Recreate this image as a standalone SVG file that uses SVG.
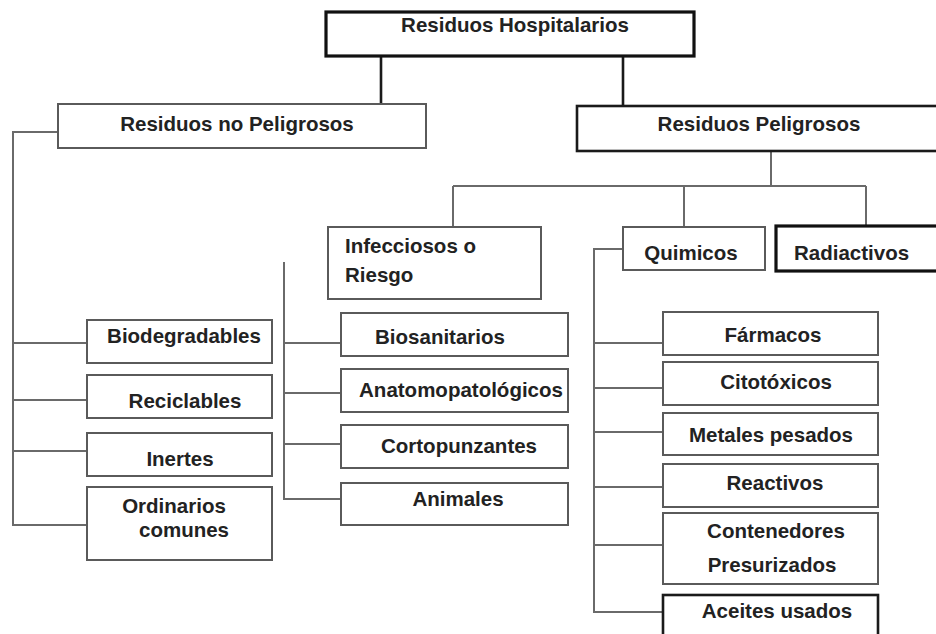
<svg xmlns="http://www.w3.org/2000/svg" width="936" height="634" viewBox="0 0 936 634">
<style>
.bg{fill:#fff}
.box{fill:#fff;stroke:#5a5a5a;stroke-width:2}
.dark{fill:#fff;stroke:#1a1a1a;stroke-width:2.6}
.heavy{fill:#fff;stroke:#111;stroke-width:3.2}
.ln{fill:none;stroke:#6a6a6a;stroke-width:2}
.lnd{fill:none;stroke:#1a1a1a;stroke-width:2.6}
text{font-family:"Liberation Sans",Arial,sans-serif;font-weight:bold;font-size:20.5px;fill:#222}
.c{text-anchor:middle}
</style>
<rect class="bg" x="0" y="0" width="936" height="634"/>
<g id="connectors">
<path class="lnd" d="M381 56V104M623 56V106"/>
<path class="ln" d="M58 132H13V525H87M13 343H87M13 400H87M13 451H87"/>
<path class="ln" d="M771 151V186M453 186H866M453 186V227M684 186V227M866 186V226"/>
<path class="ln" d="M284 262V499H341M284 343H341M284 393H341M284 444H341"/>
<path class="ln" d="M623 249H594V612H663M594 343H663M594 388H663M594 432H663M594 487H663M594 545H663"/>
</g>
<g id="n-hospitalarios"><rect class="heavy" x="326" y="12" width="368" height="44"/><text class="c" x="515" y="32">Residuos Hospitalarios</text></g>
<g id="n-nopeligrosos"><rect class="box" x="58" y="104" width="368" height="44"/><text class="c" x="237" y="131">Residuos no Peligrosos</text></g>
<g id="n-peligrosos"><rect class="dark" x="577" y="106" width="372" height="45"/><text class="c" x="759" y="131">Residuos Peligrosos</text></g>
<g id="n-infecciosos"><rect class="box" x="328" y="227" width="213" height="72"/><text x="345" y="253">Infecciosos o</text><text x="345" y="282">Riesgo</text></g>
<g id="n-quimicos"><rect class="box" x="623" y="227" width="142" height="43"/><text class="c" x="691" y="260">Quimicos</text></g>
<g id="n-radiactivos"><rect class="heavy" x="776" y="226" width="172" height="45"/><text x="794" y="260">Radiactivos</text></g>
<g id="n-biodegradables"><rect class="box" x="87" y="320" width="185" height="43"/><text class="c" x="184" y="343">Biodegradables</text></g>
<g id="n-reciclables"><rect class="box" x="87" y="375" width="185" height="43"/><text class="c" x="185" y="408">Reciclables</text></g>
<g id="n-inertes"><rect class="box" x="87" y="433" width="185" height="43"/><text class="c" x="180" y="466">Inertes</text></g>
<g id="n-ordinarios"><rect class="box" x="87" y="487" width="185" height="73"/><text class="c" x="174" y="513">Ordinarios</text><text class="c" x="184" y="537">comunes</text></g>
<g id="n-biosanitarios"><rect class="box" x="341" y="313" width="227" height="43"/><text class="c" x="440" y="344">Biosanitarios</text></g>
<g id="n-anatomo"><rect class="box" x="341" y="369" width="227" height="43"/><text class="c" x="461" y="397">Anatomopatológicos</text></g>
<g id="n-cortopunzantes"><rect class="box" x="341" y="425" width="227" height="43"/><text class="c" x="459" y="453">Cortopunzantes</text></g>
<g id="n-animales"><rect class="box" x="341" y="483" width="227" height="42"/><text class="c" x="458" y="506">Animales</text></g>
<g id="n-farmacos"><rect class="box" x="663" y="312" width="215" height="43"/><text class="c" x="773" y="342">Fármacos</text></g>
<g id="n-citotoxicos"><rect class="box" x="663" y="362" width="215" height="43"/><text class="c" x="776" y="389">Citotóxicos</text></g>
<g id="n-metales"><rect class="box" x="663" y="413" width="215" height="42"/><text class="c" x="771" y="442">Metales pesados</text></g>
<g id="n-reactivos"><rect class="box" x="663" y="464" width="215" height="43"/><text class="c" x="775" y="490">Reactivos</text></g>
<g id="n-contenedores"><rect class="box" x="663" y="513" width="215" height="71"/><text class="c" x="776" y="538">Contenedores</text><text class="c" x="772" y="572">Presurizados</text></g>
<g id="n-aceites"><rect class="dark" x="663" y="595" width="215" height="50"/><text class="c" x="777" y="618">Aceites usados</text></g>
</svg>
